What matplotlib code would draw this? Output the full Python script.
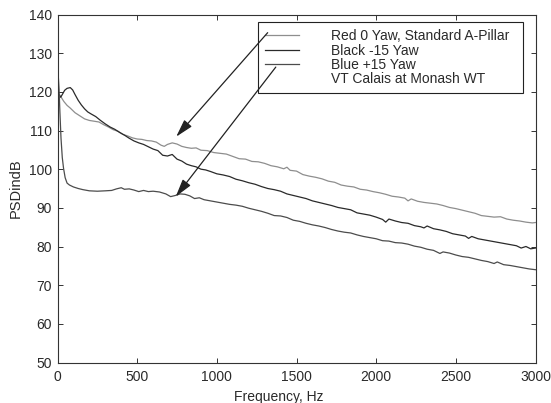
import matplotlib
matplotlib.use("Agg")
import matplotlib.pyplot as plt
from matplotlib.lines import Line2D

plt.rcParams['font.family'] = ['Liberation Sans', 'DejaVu Sans']

# ---------------- data ----------------
red_hz = [0, 20, 40, 60, 80, 110, 140, 170, 200, 230, 260, 290, 320, 350, 380, 410, 440, 470,
          500, 530, 560, 590, 620, 650, 670, 690, 720, 750, 780, 810, 840, 870, 900, 940, 980,
          1020, 1060, 1100, 1140, 1180, 1220, 1260, 1300, 1340, 1380, 1420, 1440, 1460, 1500,
          1540, 1580, 1620, 1660, 1700, 1740, 1780, 1820, 1860, 1900, 1940, 1980, 2020, 2060,
          2100, 2140, 2180, 2200, 2220, 2260, 2300, 2340, 2380, 2420, 2460, 2500, 2540, 2580,
          2620, 2660, 2700, 2740, 2780, 2820, 2860, 2900, 2940, 2980, 3000]
red_db = [120.0, 118.8, 117.5, 116.5, 115.8, 114.6, 113.8, 113.0, 112.6, 112.4, 112.2, 111.5,
          110.9, 110.2, 109.8, 109.0, 108.6, 108.1, 107.8, 107.7, 107.4, 107.3, 107.0, 106.2,
          105.9, 106.4, 106.8, 106.5, 105.9, 105.6, 105.4, 105.5, 104.9, 104.8, 104.3, 104.1,
          103.9, 103.3, 102.7, 102.6, 102.0, 101.9, 101.5, 100.9, 100.6, 100.1, 100.5, 99.7,
          99.5, 98.6, 98.2, 97.9, 97.5, 96.9, 96.6, 95.9, 95.6, 95.4, 94.8, 94.6, 94.2, 93.9,
          93.5, 93.0, 92.8, 92.5, 91.8, 92.3, 91.7, 91.4, 91.2, 91.0, 90.6, 90.1, 89.8, 89.4,
          89.0, 88.6, 88.0, 87.8, 87.6, 87.7, 87.1, 86.8, 86.6, 86.3, 86.1, 86.2]

black_hz = [0, 10, 20, 30, 45, 60, 80, 95, 110, 130, 150, 170, 190, 210, 240, 270, 300, 330,
            360, 390, 420, 450, 480, 510, 540, 570, 600, 630, 660, 690, 720, 750, 780, 810, 840,
            870, 900, 930, 960, 1000, 1040, 1080, 1120, 1160, 1200, 1240, 1280, 1320, 1360,
            1400, 1440, 1480, 1520, 1560, 1600, 1640, 1680, 1720, 1760, 1800, 1840, 1880, 1920,
            1960, 2000, 2040, 2060, 2080, 2120, 2160, 2200, 2240, 2280, 2300, 2320, 2360, 2400,
            2440, 2480, 2520, 2560, 2580, 2600, 2640, 2680, 2720, 2760, 2800, 2840, 2880, 2910,
            2940, 2970, 3000]
black_db = [120.0, 119.2, 118.6, 119.3, 120.4, 120.9, 121.1, 120.5, 119.3, 117.8, 116.6, 115.6,
            114.8, 114.3, 113.6, 112.6, 111.7, 110.9, 110.3, 109.5, 108.8, 108.0, 107.3, 106.8,
            106.4, 105.8, 105.2, 104.8, 103.6, 103.4, 103.8, 102.6, 102.1, 101.3, 100.9, 100.6,
            100.0, 99.8, 99.4, 98.8, 98.5, 98.1, 97.4, 97.0, 96.5, 96.1, 95.5, 95.0, 94.7, 94.3,
            93.6, 93.2, 92.8, 92.4, 91.8, 91.4, 91.0, 90.6, 90.1, 89.8, 89.5, 88.7, 88.4, 88.1,
            87.6, 87.0, 86.3, 87.1, 86.6, 86.2, 86.0, 85.4, 85.1, 84.8, 85.3, 84.6, 84.3, 83.9,
            83.3, 83.0, 82.7, 82.1, 82.6, 82.0, 81.7, 81.4, 81.1, 80.8, 80.5, 80.2, 79.6, 80.0,
            79.4, 79.6]

blue_hz = [0, 2, 5, 10, 15, 22, 30, 38, 48, 60, 75, 100, 130, 160, 200, 250, 300, 340, 370,
           400, 420, 450, 480, 510, 540, 570, 600, 640, 680, 710, 740, 770, 800, 830, 860, 890,
           920, 960, 1000, 1040, 1080, 1120, 1160, 1200, 1240, 1280, 1320, 1360, 1400, 1440,
           1480, 1520, 1560, 1600, 1640, 1680, 1720, 1760, 1800, 1840, 1880, 1920, 1960, 2000,
           2040, 2080, 2120, 2160, 2200, 2240, 2280, 2320, 2360, 2400, 2420, 2460, 2500, 2540,
           2580, 2620, 2660, 2700, 2740, 2760, 2800, 2840, 2880, 2920, 2960, 3000]
blue_db = [82.0, 110.0, 124.0, 120.5, 114.8, 108.0, 103.0, 100.2, 97.8, 96.4, 95.9, 95.4, 95.0,
           94.7, 94.4, 94.3, 94.4, 94.5, 94.9, 95.2, 94.8, 94.9, 94.6, 94.2, 94.5, 94.2, 94.3,
           94.1, 93.6, 92.9, 93.2, 93.6, 93.5, 93.1, 92.4, 92.6, 92.1, 91.8, 91.5, 91.2, 90.9,
           90.7, 90.4, 89.9, 89.5, 89.1, 88.6, 88.0, 87.9, 87.5, 86.8, 86.5, 86.0, 85.6, 85.3,
           84.9, 84.4, 84.0, 83.7, 83.5, 83.0, 82.6, 82.3, 82.0, 81.5, 81.4, 81.0, 80.9, 80.6,
           80.1, 79.8, 79.3, 79.0, 78.2, 78.6, 78.3, 77.8, 77.4, 77.2, 76.8, 76.4, 76.1, 75.6,
           76.0, 75.3, 75.1, 74.8, 74.5, 74.2, 74.0]

legend_labels = ["Red 0 Yaw, Standard A-Pillar", "Black -15 Yaw", "Blue +15 Yaw",
                 "VT Calais at Monash WT"]
xticks = [0, 500, 1000, 1500, 2000, 2500, 3000]
yticks = [50, 60, 70, 80, 90, 100, 110, 120, 130, 140]

# arrows: (start Hz, start dB) -> (tip Hz, tip dB)
arrow1_start = (1319, 135.3)
arrow1_tip = (745, 108.4)
arrow2_start = (1370, 126.4)
arrow2_tip = (742, 92.9)

# ---------------- figure ----------------
fig = plt.figure(figsize=(5.51, 4.03), dpi=100)
ax = fig.add_axes([57.5 / 551, 1 - 362.5 / 403, 478 / 551, 348 / 403])

c_red, c_black, c_blue = '#8e8e8e', '#2a2a2a', '#4c4c4c'
l1, = ax.plot(red_hz, red_db, color=c_red, lw=0.9)
l2, = ax.plot(black_hz, black_db, color=c_black, lw=0.9)
l3, = ax.plot(blue_hz, blue_db, color=c_blue, lw=0.9)
l4 = Line2D([], [], color='none')

ax.set_xlim(0, 3000)
ax.set_ylim(50, 140)
ax.set_xticks(xticks)
ax.set_yticks(yticks)
ax.tick_params(direction='in', top=True, right=True, length=3.5, width=0.7,
               colors='#333333', labelsize=10, labelcolor='#2a2a2a')
ax.tick_params(axis='y', pad=4)
ax.tick_params(axis='x', pad=5.5)
for s in ax.spines.values():
    s.set_color('#333333')
    s.set_linewidth(0.8)

ax.set_xlabel("Frequency, Hz", fontsize=10, color='#2a2a2a', labelpad=1)
ax.xaxis.set_label_coords(0.463, -0.08)
ax.set_ylabel("PSDindB", fontsize=10.5, color='#2a2a2a', labelpad=4)

leg = ax.legend([l1, l2, l3, l4], legend_labels, loc='upper left',
                bbox_to_anchor=(0.42, 0.7736, 0.5545, 0.204), mode='expand',
                borderaxespad=0,
                fontsize=10, fancybox=False, frameon=True, framealpha=1,
                edgecolor='#222222', handlelength=2.45, handletextpad=2.3,
                labelspacing=0.03, borderpad=0.5)
leg.get_frame().set_linewidth(0.8)
for t in leg.get_texts():
    t.set_color('#2a2a2a')

for st, tp in [(arrow1_start, arrow1_tip), (arrow2_start, arrow2_tip)]:
    ax.annotate('', xy=tp, xytext=st, zorder=6,
                arrowprops=dict(arrowstyle='-|>,head_length=0.9,head_width=0.25',
                                color='#222222', lw=0.9, mutation_scale=12,
                                shrinkA=0, shrinkB=0))

fig.savefig("out.png", dpi=100)
